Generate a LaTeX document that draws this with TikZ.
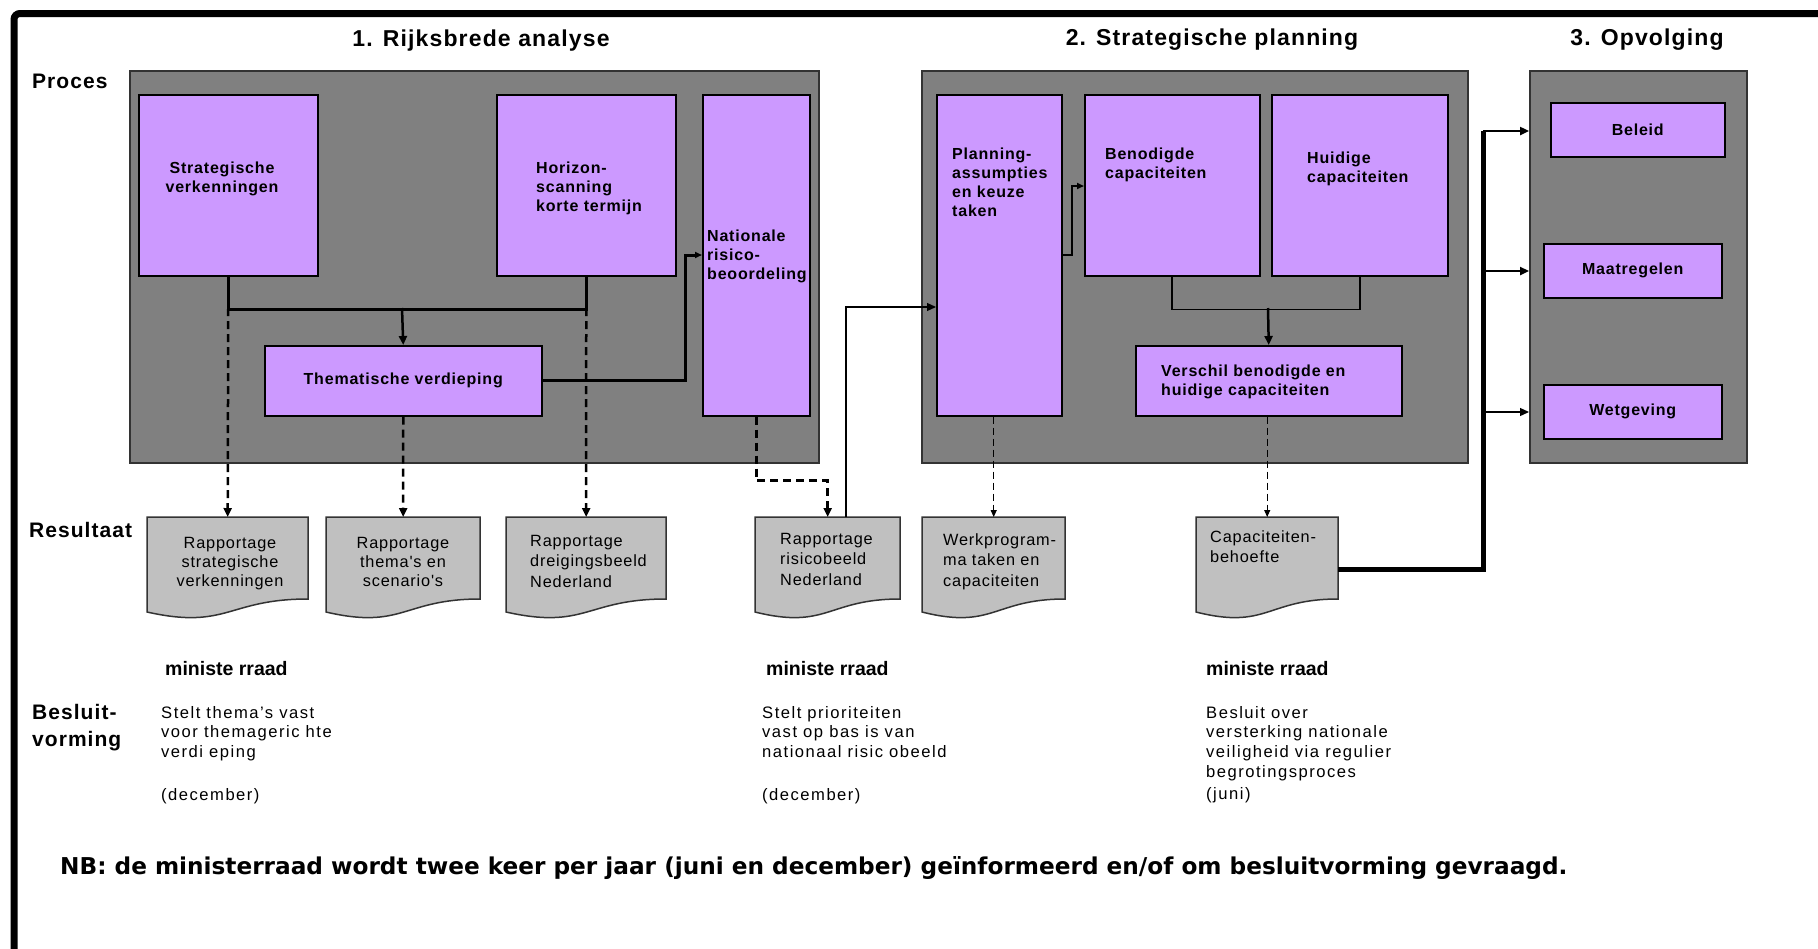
\documentclass[tikz,border=0pt]{standalone}
\usepackage{fontspec}
\setmainfont{Liberation Sans}
\newfontfamily\arl[LetterSpace=5]{Liberation Sans}
\newfontfamily\arw[LetterSpace=9]{Liberation Sans}
\newfontfamily\dvs{DejaVu Sans}
\usetikzlibrary{arrows.meta}
\definecolor{purp}{HTML}{CC99FF}
\definecolor{pgray}{HTML}{808080}
\definecolor{dgray}{HTML}{C0C0C0}
\definecolor{bord}{HTML}{333333}
\newcommand\bxf{\arl\bfseries\fontsize{16}{19}\selectfont}
\newcommand\dcf{\arl\fontsize{16.3}{19}\selectfont}
\newcommand\dcg{\arl\fontsize{16.3}{20.5}\selectfont}
\newcommand\ttf{\arl\bfseries\fontsize{23}{27}\selectfont}
\newcommand\lbf{\arl\bfseries\fontsize{21}{27}\selectfont}
\newcommand\mrf{\bfseries\fontsize{19.5}{24}\selectfont}
\newcommand\stf{\arw\fontsize{16.6}{19.7}\selectfont}
\newcommand\nbf{\dvs\bfseries\fontsize{23.2}{28}\selectfont}
\newcommand\docshape[3]{%
  \path[docst] (#1,517) -- (#2,517) -- (#2,599)
    .. controls ({(#1+#2)/2},599) and ({(#1+#2)/2},630) .. (#1,612) -- cycle;
  \node[inner sep=0, minimum width=#2-#1, minimum height=82, anchor=north west] (#3) at (#1,517) {};
}
\tikzset{
  panel/.style={draw=bord, line width=2, fill=pgray, inner sep=0, anchor=north west},
  box/.style={draw=black, line width=1.5, fill=purp, inner sep=0, anchor=north west, font=\bxf},
  docst/.style={draw=bord, line width=1.5, fill=dgray},
  txt/.style={inner sep=0, anchor=north west, align=left},
  ln/.style={line width=2.5},
  lnm/.style={line width=1.8},
  lnt/.style={line width=1.2},
  arr/.style={-{Triangle[length=9pt,width=8pt]}},
  arrs/.style={-{Triangle[length=7pt,width=6pt]}},
  dsh/.style={line width=2.5, dash pattern=on 8pt off 5pt},
  dsht/.style={line width=1.1, dash pattern=on 7pt off 4pt},
}
\begin{document}
\begin{tikzpicture}[x=1pt,y=-1pt]
\useasboundingbox (0,0) rectangle (1818,948);
\fill[white] (0,0) rectangle (1818,948);
% frame
\draw[line width=7, rounded corners=6] (14,970) -- (14,13.5) -- (1840,13.5);

% titles
\node[inner sep=0, anchor=base, font=\ttf] (t1) at (481,46) {1. Rijksbrede analyse};
\node[inner sep=0, anchor=base, font=\ttf] (t2) at (1212,45) {2. Strategische planning};
\node[inner sep=0, anchor=base, font=\ttf] (t3) at (1647,45) {3. Opvolging};
\node[inner sep=0, anchor=base west, font=\lbf] (lp) at (32,88) {Proces};
\node[inner sep=0, anchor=base west, font=\lbf] (lr) at (29,537) {Resultaat};
\node[txt, font=\lbf] (lb) at (32,704) {Besluit-\\vorming};

% panels
\node[panel, minimum width=689, minimum height=392] (p1) at (129,70) {};
\node[panel, minimum width=546, minimum height=392] (p2) at (921,70) {};
\node[panel, minimum width=217, minimum height=392] (p3) at (1529,70) {};

% boxes
\node[box, minimum width=179, minimum height=181] (sv) at (138,94) {};
\node[box, minimum width=179, minimum height=181] (hz) at (496,94) {};
\node[box, minimum width=107, minimum height=321] (nat) at (702,94) {};
\node[box, minimum width=277, minimum height=70] (them) at (264,345) {Thematische verdieping};
\node[box, minimum width=125, minimum height=321] (plan) at (936,94) {};
\node[box, minimum width=175, minimum height=181] (ben) at (1084,94) {};
\node[box, minimum width=176, minimum height=181] (hui) at (1271,94) {};
\node[box, minimum width=266, minimum height=70] (ver) at (1135,345) {};
\node[box, minimum width=174, minimum height=54] (bel) at (1550,102) {Beleid};
\node[box, minimum width=178, minimum height=54] (maa) at (1543,243) {Maatregelen};
\node[box, minimum width=178, minimum height=54] (wet) at (1543,384) {Wetgeving};

% box texts
\node[txt, anchor=north, align=center, font=\bxf] (tsv) at (222,162) {Strategische\\verkenningen};
\node[txt, font=\bxf] (thz) at (536,162) {Horizon-\\scanning\\korte termijn};
\node[txt, font=\bxf] (tnat) at (707,230) {Nationale\\risico-\\beoordeling};
\node[txt, font=\bxf] (tplan) at (952,148) {Planning-\\assumpties\\en keuze\\taken};
\node[txt, font=\bxf] (tben) at (1105,148) {Benodigde\\capaciteiten};
\node[txt, font=\bxf] (thui) at (1307,152) {Huidige\\capaciteiten};
\node[txt, font=\bxf] (tver) at (1161,365) {Verschil benodigde en\\huidige capaciteiten};

% documents
\docshape{147}{308}{d1}
\docshape{326}{480}{d2}
\docshape{506}{666}{d3}
\docshape{755}{900}{d4}
\docshape{922}{1065}{d5}
\docshape{1196}{1338}{d6}
\node[txt, anchor=north, align=center, font=\dcf] (td1) at (230,537) {Rapportage\\strategische\\verkenningen};
\node[txt, anchor=north, align=center, font=\dcf] (td2) at (403,537) {Rapportage\\thema's en\\scenario's};
\node[txt, font=\dcg] (td3) at (530,535) {Rapportage\\dreigingsbeeld\\Nederland};
\node[txt, font=\dcg] (td4) at (780,533) {Rapportage\\risicobeeld\\Nederland};
\node[txt, font=\dcg] (td5) at (943,533) {Werkprogram-\\ma taken en\\capaciteiten};
\node[txt, font=\dcg] (td6) at (1210,530) {Capaciteiten-\\behoefte};

% connectors panel 1
\coordinate (j1) at (402,308);
\draw[ln] (sv.south) -- ++(0,33) -| (hz.south);
\draw[ln,arr] (j1) -- (them.north);
\coordinate (k1) at (685,255);
\draw[line width=3,arrs] (them.east) -| (k1) -- (nat.west |- k1);
\draw[dsh,arr] (sv.south |- j1) -- (d1.north);
\draw[dsh,arr] (them.south) -- (d2.north);
\draw[dsh,arr] (hz.south |- j1) -- (d3.north);
\draw[dsh,arr] (nat.south) -- ++(0,64) -| (d4.north);

% connectors panel 2
\coordinate (k2) at (846,517);
\coordinate (k3) at (936,307);
\draw[lnt,arr] (k2) |- (k3);
\coordinate (k5) at (1072,186);
\draw[lnm,arrs] (plan.east) -| (k5) -- (ben.west |- k5);
\coordinate (j2) at (1268,308);
\draw[lnm] (ben.south) -- ++(0,33) -| (hui.south);
\draw[ln,arr] (j2) -- (ver.north);
\draw[dsht,arrs] (plan.south -| d5.north) -- (d5.north);
\draw[dsht,arrs] (ver.south -| d6.north) -- (d6.north);

% connectors to panel 3
\coordinate (k4) at (1338,569);
\coordinate (b1) at (1483,131);
\coordinate (b2) at (1483,271);
\coordinate (b3) at (1483,412);
\draw[line width=5] (k4) -| (b1);
\draw[ln,arr] (b1) -- (b1 -| p3.west);
\draw[ln,arr] (b2) -- (b2 -| p3.west);
\draw[lnt,arr] (b3) -- (b3 -| p3.west);

% decision texts
\node[inner sep=0, anchor=base west, font=\mrf] (m1) at (165,675) {ministe rraad};
\node[inner sep=0, anchor=base west, font=\mrf] (m2) at (766,675) {ministe rraad};
\node[inner sep=0, anchor=base west, font=\mrf] (m3) at (1206,675) {ministe rraad};
\node[txt, font=\stf] (s1) at (161,706) {Stelt thema’s vast\\voor themageric hte\\verdi eping\\[23pt](december)};
\node[txt, font=\stf] (s2) at (762,706) {Stelt prioriteiten\\vast op bas is van\\nationaal risic obeeld\\[23pt](december)};
\node[txt, font=\stf] (s3) at (1206,706) {Besluit over\\versterking nationale\\veiligheid via regulier\\begrotingsproces\\[2pt](juni)};

\node[inner sep=0, anchor=base west, font=\nbf] (nb) at (60,874) {NB: de ministerraad wordt twee keer per jaar (juni en december) geïnformeerd en/of om besluitvorming gevraagd.};
\end{tikzpicture}
\end{document}
